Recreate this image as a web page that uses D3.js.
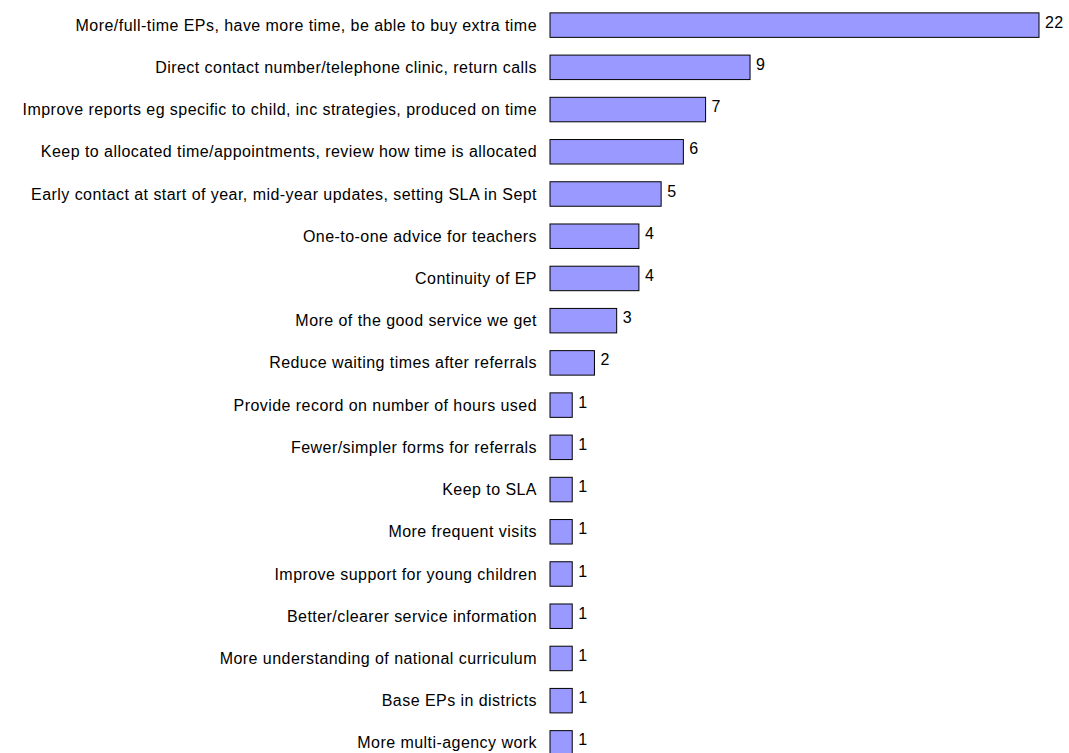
<!DOCTYPE html>
<html>
<head>
<meta charset="utf-8">
<script src="https://cdn.jsdelivr.net/npm/d3@7"></script>
<style>
  html, body { margin: 0; padding: 0; background: #fff; }
  svg { display: block; }
  text { font-family: "Liberation Sans", Arial, sans-serif; fill: #000; }
</style>
</head>
<body>
<svg id="chart" width="1069" height="753"></svg>
<script>
const categories = [
  "More/full-time EPs, have more time, be able to buy extra time",
  "Direct contact number/telephone clinic, return calls",
  "Improve reports eg specific to child, inc strategies, produced on time",
  "Keep to allocated time/appointments, review how time is allocated",
  "Early contact at start of year, mid-year updates, setting SLA in Sept",
  "One-to-one advice for teachers",
  "Continuity of EP",
  "More of the good service we get",
  "Reduce waiting times after referrals",
  "Provide record on number of hours used",
  "Fewer/simpler forms for referrals",
  "Keep to SLA",
  "More frequent visits",
  "Improve support for young children",
  "Better/clearer service information",
  "More understanding of national curriculum",
  "Base EPs in districts",
  "More multi-agency work"
];
const counts = [22, 9, 7, 6, 5, 4, 4, 3, 2, 1, 1, 1, 1, 1, 1, 1, 1, 1];

const svg = d3.select("#chart");

const x = d3.scaleLinear().domain([0, 22]).range([550, 1039]);
const y = d3.scaleBand().domain(categories).range([4, 764]).paddingInner(0.42).paddingOuter(0.21);

const rows = svg.selectAll("g.row")
  .data(categories.map((c, i) => ({ c, v: counts[i] })))
  .join("g")
  .attr("class", "row");

rows.append("rect")
  .attr("x", x(0))
  .attr("y", d => y(d.c))
  .attr("width", d => x(d.v) - x(0))
  .attr("height", y.bandwidth())
  .attr("fill", "#9999ff")
  .attr("stroke", "#000")
  .attr("stroke-width", 1);

// category labels, right-aligned against the bars
rows.append("text")
  .attr("x", x(0) - 13)
  .attr("y", d => y(d.c) + y.bandwidth() / 2)
  .attr("dy", "0.35em")
  .attr("text-anchor", "end")
  .attr("font-size", 16)
  .attr("letter-spacing", 0.45)
  .text(d => d.c);

// counts at the end of each bar
rows.append("text")
  .attr("x", d => x(d.v) + 6)
  .attr("y", d => y(d.c) + y.bandwidth() / 2 - 3)
  .attr("dy", "0.35em")
  .attr("font-size", 16)
  .attr("letter-spacing", 0.45)
  .text(d => d.v);
</script>
</body>
</html>
